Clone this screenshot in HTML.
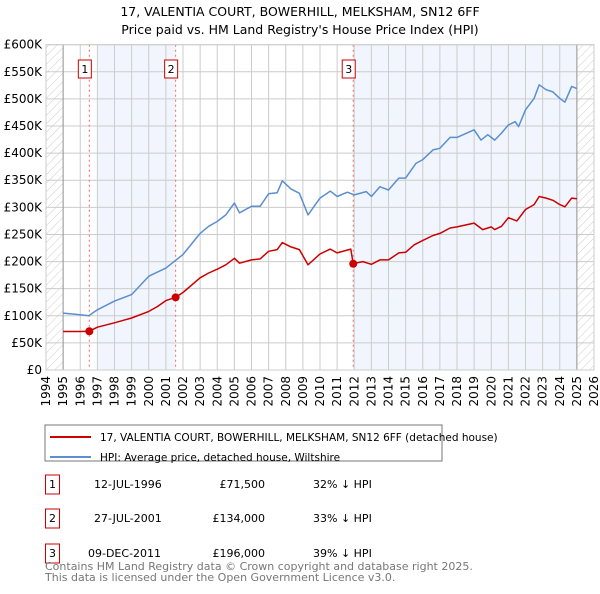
<!DOCTYPE html>
<html><head><meta charset="utf-8"><style>
body{margin:0;background:#fff;width:600px;height:590px;overflow:hidden;font-family:"DejaVu Sans","Liberation Sans",sans-serif}
svg text{font-family:"DejaVu Sans","Liberation Sans",sans-serif}
</style></head><body>
<svg id="c" width="600" height="590" viewBox="0 0 600 590" xmlns="http://www.w3.org/2000/svg">
<defs><pattern id="h" width="6" height="6" patternUnits="userSpaceOnUse" patternTransform="rotate(45)"><line x1="0" y1="0" x2="0" y2="6" stroke="#ccc" stroke-width="1"/></pattern></defs>
<text x="300" y="16" text-anchor="middle" font-size="12.5">17, VALENTIA COURT, BOWERHILL, MELKSHAM, SN12 6FF</text>
<text x="300" y="34" text-anchor="middle" font-size="12.5">Price paid vs. HM Land Registry's House Price Index (HPI)</text>
<g id="plot"></g>
<rect x="45" y="425" width="397" height="36" fill="#fff" stroke="#777"/>
<line x1="50" y1="437" x2="91" y2="437" stroke="#cc0000" stroke-width="2"/>
<text x="100" y="441" font-size="10.5">17, VALENTIA COURT, BOWERHILL, MELKSHAM, SN12 6FF (detached house)</text>
<line x1="50" y1="457" x2="91" y2="457" stroke="#5b8fd0" stroke-width="2"/>
<text x="100" y="461" font-size="10.5">HPI: Average price, detached house, Wiltshire</text>
<g font-size="11">
<rect x="45.5" y="475" width="14" height="19" fill="#fff" stroke="#cc0000"/><text x="52.5" y="488" text-anchor="middle">1</text>
<text x="94" y="488">12-JUL-1996</text><text x="265" y="488" text-anchor="end">£71,500</text><text x="313" y="488">32% ↓ HPI</text>
<rect x="45.5" y="509" width="14" height="19" fill="#fff" stroke="#cc0000"/><text x="52.5" y="522" text-anchor="middle">2</text>
<text x="94" y="522">27-JUL-2001</text><text x="265" y="522" text-anchor="end">£134,000</text><text x="313" y="522">33% ↓ HPI</text>
<rect x="45.5" y="544" width="14" height="19" fill="#fff" stroke="#cc0000"/><text x="52.5" y="557" text-anchor="middle">3</text>
<text x="88" y="557">09-DEC-2011</text><text x="265" y="557" text-anchor="end">£196,000</text><text x="313" y="557">39% ↓ HPI</text>
</g>
<text x="45" y="570" font-size="11" fill="#777">Contains HM Land Registry data © Crown copyright and database right 2025.</text>
<text x="45" y="581" font-size="11" fill="#777">This data is licensed under the Open Government Licence v3.0.</text>
</svg>
<script>
const hpiYears=[1995,1996,1996.5,1997,1998,1999,2000,2001,2001.6,2002,2003,2003.5,2004,2004.5,2005,2005.3,2006,2006.5,2007,2007.5,2007.8,2008.3,2008.8,2009.3,2010,2010.6,2011,2011.6,2012,2012.7,2013,2013.5,2014,2014.6,2015,2015.6,2016,2016.6,2017,2017.6,2018,2019,2019.4,2019.8,2020.2,2020.6,2021,2021.4,2021.6,2022,2022.5,2022.8,2023.2,2023.6,2024,2024.3,2024.7,2025];
const hpiValues=[105,102,100,111,127,139,173,188,203,213,252,265,274,286,308,290,302,302,325,327,349,334,326,286,317,330,320,328,323,329,320,338,332,354,354,381,388,406,409,429,429,443,424,434,424,437,452,458,449,480,501,526,517,513,501,494,523,519];
const ppYears=[1995,1996,1996.53,1997,1998,1999,2000,2000.5,2001,2001.57,2002,2003,2003.5,2004,2004.5,2005,2005.3,2006,2006.5,2007,2007.5,2007.8,2008.3,2008.8,2009.3,2010,2010.6,2011,2011.8,2011.94,2012.5,2013,2013.5,2014,2014.6,2015,2015.5,2016,2016.6,2017,2017.6,2018,2019,2019.5,2020,2020.2,2020.6,2021,2021.5,2022,2022.5,2022.8,2023.2,2023.6,2024,2024.3,2024.7,2025];
const ppValues=[71,71,71.5,79,87,96,108,117,128,134,143,170,179,186,194,206,197,203,205,219,222,235,227,222,194,214,223,216,223,196,200,195,203,203,216,217,231,239,248,252,262,264,271,259,264,259,265,281,275,296,305,320,317,313,305,301,317,316];
const saleYears=[1996.53,2001.57,2011.94];
const saleValues=[71.5,134,196];
const saleLabels=["1","2","3"];
const yTicks=[0,50,100,150,200,250,300,350,400,450,500,550,600];
const yTickLabels=["£0","£50K","£100K","£150K","£200K","£250K","£300K","£350K","£400K","£450K","£500K","£550K","£600K"];
const xTicks=[1994,1995,1996,1997,1998,1999,2000,2001,2002,2003,2004,2005,2006,2007,2008,2009,2010,2011,2012,2013,2014,2015,2016,2017,2018,2019,2020,2021,2022,2023,2024,2025,2026];

const X0=46,X1=594,Y0=370,Y1=44.7;
const xs=y=>X0+(y-1994)*(X1-X0)/32;
const ys=v=>Y0-v*(Y0-Y1)/600;
const NS="http://www.w3.org/2000/svg";
const g=document.getElementById('plot');
function mk(t,a){const e=document.createElementNS(NS,t);for(const k in a)e.setAttribute(k,a[k]);g.appendChild(e);return e;}
let e;
e=mk('rect',{x:X0,y:Y1,width:X1-X0,height:Y0-Y1,fill:'#fff'});


e=mk('rect',{x:xs(1997),y:Y1,width:xs(saleYears[1])-xs(1997),height:Y0-Y1,fill:'#eef3fc',opacity:0.8});


e=mk('rect',{x:xs(saleYears[2]),y:Y1,width:xs(2025)-xs(saleYears[2]),height:Y0-Y1,fill:'#eef3fc',opacity:0.8});


e=mk('rect',{x:X0,y:Y1,width:xs(1995)-X0,height:Y0-Y1,fill:'url(#h)'});


e=mk('rect',{x:xs(2025),y:Y1,width:X1-xs(2025),height:Y0-Y1,fill:'url(#h)'});


yTicks.forEach((v,i)=>{
 e=mk('line',{x1:X0,x2:X1,y1:ys(v),y2:ys(v),stroke:'#ccc','stroke-width':1});
 
 
 e=mk('text',{x:X0-4,y:ys(v)+4,'text-anchor':'end','font-size':12});
 e.textContent=yTickLabels[i];
 
 
});
xTicks.forEach(y=>{
 e=mk('line',{x1:xs(y),x2:xs(y),y1:Y1,y2:Y0,stroke:'#ccc','stroke-width':1});
 
 
 e=mk('text',{x:0,y:0,'text-anchor':'end','font-size':12,transform:`translate(${xs(y)+4},${Y0+6}) rotate(-90)`});
 e.textContent=y;
 
 
});
e=mk('line',{x1:xs(1995),x2:xs(1995),y1:Y1,y2:Y0,stroke:'#999'});


e=mk('line',{x1:xs(2025),x2:xs(2025),y1:Y1,y2:Y0,stroke:'#999'});


saleYears.forEach((y,i)=>{
 e=mk('line',{x1:xs(y),x2:xs(y),y1:Y1,y2:Y0,stroke:'#ff6666','stroke-dasharray':'2,3','stroke-width':1});
 
 
});
function line(xa,va,col,name){
 const d=xa.map((y,i)=>(i?'L':'M')+xs(y).toFixed(1)+','+ys(va[i]).toFixed(1)).join('');
 e=mk('path',{d:d,fill:'none',stroke:col,'stroke-width':1.5,'stroke-linejoin':'round'});
 
 
}
line(hpiYears,hpiValues,'#5b8fd0','hpi-line');
line(ppYears,ppValues,'#cc0000','price-paid-line');
saleYears.forEach((y,i)=>{
 e=mk('circle',{cx:xs(y),cy:ys(saleValues[i]),r:4,fill:'#cc0000'});
 
 
 e=mk('rect',{x:xs(y)-11,y:60,width:13,height:18,fill:'#fff',stroke:'#cc0000'});
 
 
 e=mk('text',{x:xs(y)-4.5,y:73,'text-anchor':'middle','font-size':11});
 e.textContent=saleLabels[i];
 
 
});
e=mk('rect',{x:X0,y:Y1,width:X1-X0,height:Y0-Y1,fill:'none',stroke:'#ccc'});


</script>
</body></html>
